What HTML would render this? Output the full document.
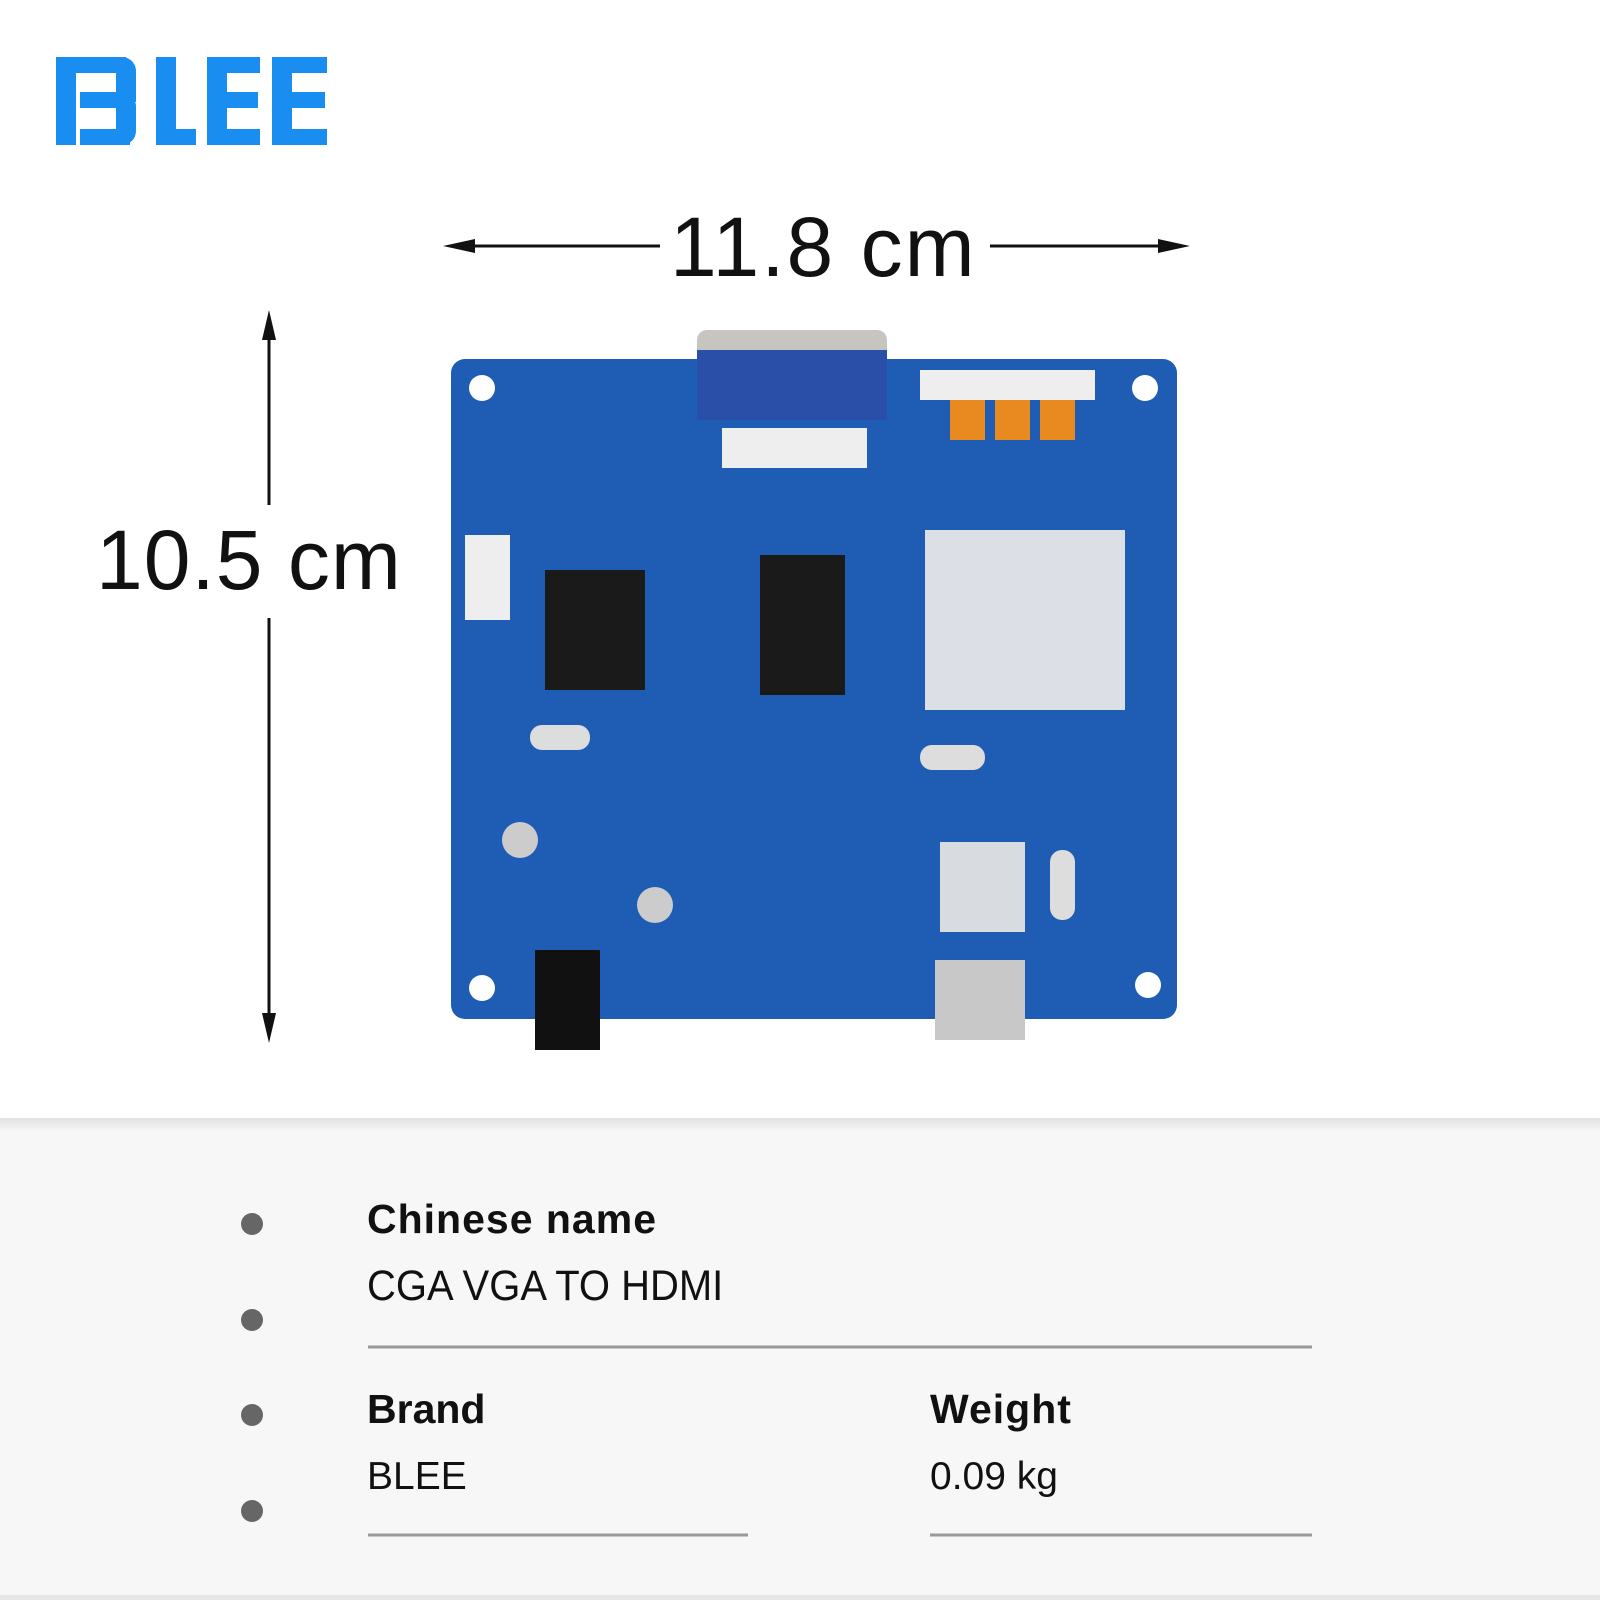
<!DOCTYPE html>
<html><head><meta charset="utf-8"><style>
body{margin:0;width:1600px;height:1600px;background:#fff;position:relative;overflow:hidden;font-family:"Liberation Sans",sans-serif}
.a{position:absolute}
.t{position:absolute;color:#111;white-space:nowrap}
</style></head><body>
<!-- logo -->
<div class="a" style="left:56px;top:57px;width:20px;height:88px;background:#1a8ef0"></div>
<div class="a" style="left:56px;top:57px;width:70px;height:16px;background:#1a8ef0"></div>
<div class="a" style="left:80px;top:92px;width:40px;height:16px;background:#1a8ef0"></div>
<div class="a" style="left:80px;top:129px;width:50px;height:16px;background:#1a8ef0"></div>
<div class="a" style="left:116px;top:57px;width:20px;height:45px;background:#1a8ef0;border-radius:0 14px 0 0"></div>
<div class="a" style="left:116px;top:96px;width:20px;height:49px;background:#1a8ef0;border-radius:0 10px 14px 0"></div>
<div class="a" style="left:156px;top:57px;width:20px;height:88px;background:#1a8ef0"></div>
<div class="a" style="left:156px;top:129px;width:40px;height:16px;background:#1a8ef0"></div>
<div class="a" style="left:207px;top:57px;width:20px;height:88px;background:#1a8ef0"></div>
<div class="a" style="left:207px;top:57px;width:53px;height:16px;background:#1a8ef0"></div>
<div class="a" style="left:207px;top:92px;width:51px;height:16px;background:#1a8ef0"></div>
<div class="a" style="left:207px;top:129px;width:53px;height:16px;background:#1a8ef0"></div>
<div class="a" style="left:272px;top:57px;width:20px;height:88px;background:#1a8ef0"></div>
<div class="a" style="left:272px;top:57px;width:55px;height:16px;background:#1a8ef0"></div>
<div class="a" style="left:272px;top:92px;width:53px;height:16px;background:#1a8ef0"></div>
<div class="a" style="left:272px;top:129px;width:55px;height:16px;background:#1a8ef0"></div>

<svg class="a" style="left:0;top:0" width="1600" height="1600">
<line x1="450" y1="246" x2="660" y2="246" stroke="#111" stroke-width="3"/>
<polygon points="443,246 475,239 475,253" fill="#111"/>
<line x1="990" y1="246" x2="1180" y2="246" stroke="#111" stroke-width="3"/>
<polygon points="1190,246 1158,239 1158,253" fill="#111"/>
<line x1="269" y1="318" x2="269" y2="505" stroke="#111" stroke-width="3"/>
<polygon points="269,310 262,340 276,340" fill="#111"/>
<line x1="269" y1="618" x2="269" y2="1035" stroke="#111" stroke-width="3"/>
<polygon points="269,1043 262,1013 276,1013" fill="#111"/>
<!-- board -->
<rect x="697" y="330" width="190" height="60" rx="10" fill="#c8c4bf"/>
<rect x="451" y="359" width="726" height="660" rx="14" fill="#1f5cb4"/>
<rect x="697" y="350" width="190" height="70" fill="#2a4fa8"/>
<rect x="920" y="370" width="175" height="30" fill="#eee"/>
<rect x="950" y="400" width="35" height="40" fill="#e88a20"/>
<rect x="995" y="400" width="35" height="40" fill="#e88a20"/>
<rect x="1040" y="400" width="35" height="40" fill="#e88a20"/>
<rect x="722" y="428" width="145" height="40" fill="#eee"/>
<rect x="925" y="530" width="200" height="180" fill="#dcdfe6"/>
<rect x="545" y="570" width="100" height="120" fill="#1a1a1a"/>
<rect x="760" y="555" width="85" height="140" fill="#1a1a1a"/>
<rect x="940" y="842" width="85" height="90" fill="#d8dbe0"/>
<rect x="535" y="950" width="65" height="100" fill="#111"/>
<rect x="935" y="960" width="90" height="80" fill="#c8c8c8"/>
<rect x="465" y="535" width="45" height="85" fill="#eee"/>
<circle cx="482" cy="388" r="13" fill="#fff"/><circle cx="1145" cy="388" r="13" fill="#fff"/>
<circle cx="482" cy="988" r="13" fill="#fff"/><circle cx="1148" cy="985" r="13" fill="#fff"/>
<circle cx="520" cy="840" r="18" fill="#ccc"/><circle cx="655" cy="905" r="18" fill="#ccc"/>
<rect x="530" y="725" width="60" height="25" rx="12" fill="#ddd"/>
<rect x="920" y="745" width="65" height="25" rx="12" fill="#ddd"/>
<rect x="1050" y="850" width="25" height="70" rx="12" fill="#ddd"/>
<!-- bottom area -->
<defs><linearGradient id="g" x1="0" y1="0" x2="0" y2="1"><stop offset="0" stop-color="#e2e2e2"/><stop offset="1" stop-color="#f8f7f8"/></linearGradient></defs>
<rect x="0" y="1118" width="1600" height="14" fill="url(#g)"/>
<rect x="0" y="1132" width="1600" height="463" fill="#f8f7f8"/>
<rect x="0" y="1595" width="1600" height="5" fill="#e6e6e6"/>
<g fill="#666"><circle cx="252" cy="1224" r="11"/><circle cx="252" cy="1320" r="11"/><circle cx="252" cy="1415" r="11"/><circle cx="252" cy="1511" r="11"/></g>
<g stroke="#999" stroke-width="3"><line x1="368" y1="1347" x2="1312" y2="1347"/><line x1="368" y1="1535" x2="748" y2="1535"/><line x1="930" y1="1535" x2="1312" y2="1535"/></g>
</svg>
<div class="t" style="left:670px;top:203px;font-size:84px;line-height:88px;letter-spacing:2px">11.8 cm</div>
<div class="t" style="left:96px;top:516px;font-size:84px;line-height:88px;letter-spacing:1px">10.5 cm</div>
<div class="t" style="left:367px;top:1196px;font-size:41px;font-weight:bold;letter-spacing:1px">Chinese name</div>
<div class="t" style="left:367px;top:1262px;font-size:43px;transform:scaleX(0.93);transform-origin:left">CGA VGA TO HDMI</div>
<div class="t" style="left:367px;top:1386px;font-size:41px;font-weight:bold">Brand</div>
<div class="t" style="left:367px;top:1455px;font-size:39px">BLEE</div>
<div class="t" style="left:930px;top:1386px;font-size:41px;font-weight:bold;letter-spacing:1px">Weight</div>
<div class="t" style="left:930px;top:1455px;font-size:39px">0.09 kg</div>
</body></html>
